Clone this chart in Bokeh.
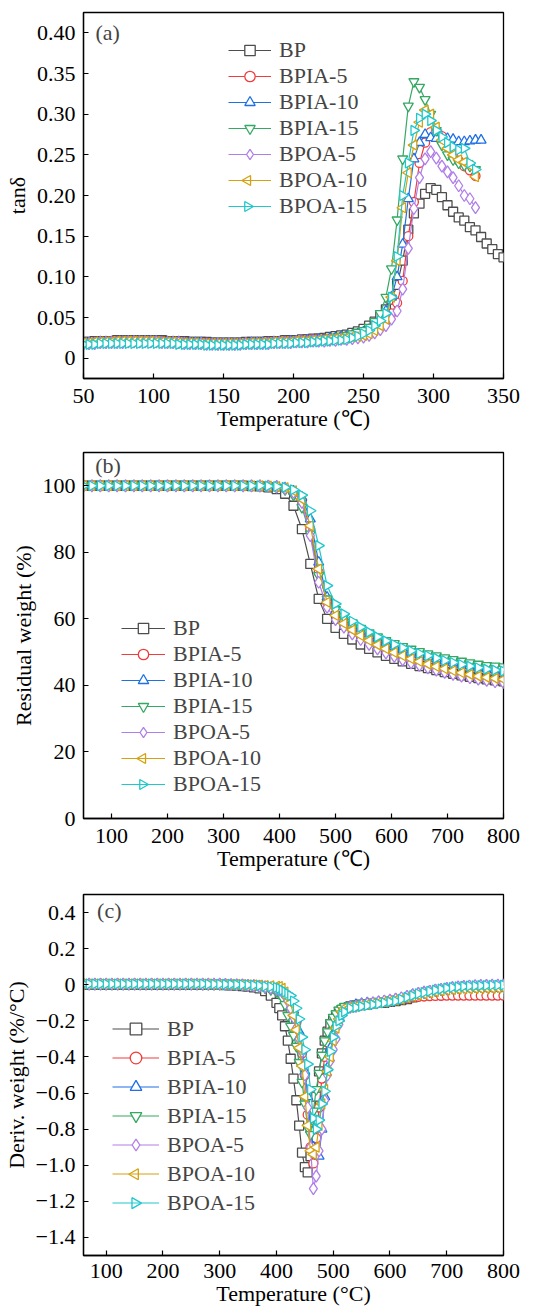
import math
from bokeh.plotting import figure
from bokeh.layouts import column
from bokeh.models import Legend, LegendItem, FixedTicker, Label, Range1d
from bokeh.embed import file_html
from bokeh.resources import INLINE

FONT = "Liberation Serif"

names = ["BP", "BPIA-5", "BPIA-10", "BPIA-15", "BPOA-5", "BPOA-10", "BPOA-15"]
colors = ["#4d4d4d", "#f03c3c", "#1f6fe5", "#35a863", "#b07ee8", "#d4a20f", "#1ec8cc"]
markers = ["square", "circle", "triangle", "inverted_triangle", "diamond", "triangle", "triangle"]
angles = [0, 0, 0, 0, 0, math.pi / 2, -math.pi / 2]
msizes = [9, 9, 10, 10, 12, 10, 10]

# ---------------- (a) tan delta ----------------
temp_a = [50, 54, 58, 62, 66, 70, 74, 78, 82, 86,
          90, 94, 98, 102, 106, 110, 114, 118, 122, 126,
          130, 134, 138, 142, 146, 150, 154, 158, 162, 166,
          170, 174, 178, 182, 186, 190, 194, 198, 202, 206,
          210, 214, 218, 222, 226, 230, 234, 238, 242, 246,
          250, 254, 258, 262, 266, 270, 274, 278, 282, 286,
          290, 294, 298, 302, 306, 310, 314, 318, 322, 326,
          330, 334, 338, 342, 346, 350]

tan_BP = [0.020, 0.020, 0.021, 0.021, 0.021, 0.021, 0.022, 0.022, 0.022, 0.022,
          0.022, 0.022, 0.022, 0.022, 0.022, 0.021, 0.021, 0.021, 0.021, 0.020,
          0.020, 0.020, 0.020, 0.019, 0.019, 0.019, 0.019, 0.019, 0.019, 0.020,
          0.020, 0.020, 0.020, 0.021, 0.021, 0.021, 0.022, 0.022, 0.022, 0.023,
          0.023, 0.024, 0.024, 0.025, 0.026, 0.027, 0.028, 0.029, 0.031, 0.033,
          0.036, 0.040, 0.045, 0.052, 0.060, 0.072, 0.090, 0.120, 0.158, 0.178,
          0.190, 0.202, 0.209, 0.207, 0.198, 0.188, 0.180, 0.173, 0.169, 0.161,
          0.157, 0.149, 0.141, 0.134, 0.128, 0.124]
tan_BPIA5 = [0.019, 0.019, 0.020, 0.020, 0.020, 0.021, 0.021, 0.021, 0.021, 0.021,
             0.021, 0.021, 0.021, 0.021, 0.021, 0.020, 0.020, 0.020, 0.020, 0.019,
             0.019, 0.019, 0.019, 0.018, 0.018, 0.018, 0.018, 0.018, 0.018, 0.019,
             0.019, 0.019, 0.019, 0.020, 0.020, 0.020, 0.021, 0.021, 0.021, 0.022,
             0.022, 0.023, 0.023, 0.024, 0.024, 0.025, 0.026, 0.027, 0.028, 0.029,
             0.030, 0.032, 0.036, 0.040, 0.046, 0.055, 0.068, 0.095, 0.150, 0.192,
             0.240, 0.265, 0.278, 0.280, 0.273, 0.262, 0.252, 0.243, 0.236, 0.231,
             0.224]
tan_BPIA10 = [0.019, 0.019, 0.019, 0.020, 0.020, 0.020, 0.020, 0.021, 0.021, 0.021,
              0.021, 0.021, 0.021, 0.021, 0.020, 0.020, 0.020, 0.020, 0.019, 0.019,
              0.019, 0.019, 0.018, 0.018, 0.018, 0.018, 0.018, 0.018, 0.018, 0.018,
              0.019, 0.019, 0.019, 0.019, 0.020, 0.020, 0.020, 0.021, 0.021, 0.021,
              0.022, 0.022, 0.023, 0.023, 0.024, 0.025, 0.026, 0.027, 0.028, 0.030,
              0.032, 0.035, 0.040, 0.047, 0.058, 0.075, 0.100, 0.140, 0.196, 0.245,
              0.265, 0.275, 0.271, 0.270, 0.270, 0.270, 0.269, 0.266, 0.266, 0.267,
              0.268, 0.268]
tan_BPIA15 = [0.018, 0.018, 0.019, 0.019, 0.019, 0.020, 0.020, 0.020, 0.020, 0.020,
              0.020, 0.020, 0.020, 0.020, 0.020, 0.020, 0.019, 0.019, 0.019, 0.019,
              0.018, 0.018, 0.018, 0.018, 0.017, 0.017, 0.017, 0.017, 0.018, 0.018,
              0.018, 0.018, 0.019, 0.019, 0.019, 0.020, 0.020, 0.020, 0.021, 0.021,
              0.022, 0.022, 0.023, 0.024, 0.025, 0.026, 0.027, 0.028, 0.030, 0.032,
              0.034, 0.038, 0.045, 0.055, 0.075, 0.110, 0.170, 0.245, 0.310, 0.340,
              0.333, 0.318, 0.300, 0.280, 0.262, 0.250, 0.244, 0.240, 0.237, 0.236,
              0.232]
tan_BPOA5 = [0.018, 0.018, 0.018, 0.019, 0.019, 0.019, 0.019, 0.019, 0.020, 0.020,
             0.020, 0.020, 0.020, 0.020, 0.019, 0.019, 0.019, 0.019, 0.018, 0.018,
             0.018, 0.018, 0.017, 0.017, 0.017, 0.017, 0.017, 0.017, 0.017, 0.018,
             0.018, 0.018, 0.018, 0.018, 0.019, 0.019, 0.019, 0.019, 0.020, 0.020,
             0.020, 0.021, 0.021, 0.021, 0.022, 0.022, 0.023, 0.023, 0.024, 0.025,
             0.026, 0.028, 0.031, 0.035, 0.040, 0.048, 0.058, 0.085, 0.135, 0.184,
             0.222, 0.245, 0.254, 0.246, 0.236, 0.229, 0.222, 0.212, 0.200, 0.196,
             0.185]
tan_BPOA10 = [0.019, 0.019, 0.020, 0.020, 0.020, 0.020, 0.021, 0.021, 0.021, 0.021,
              0.021, 0.021, 0.021, 0.020, 0.020, 0.020, 0.020, 0.019, 0.019, 0.019,
              0.019, 0.018, 0.018, 0.018, 0.018, 0.018, 0.018, 0.018, 0.018, 0.018,
              0.019, 0.019, 0.019, 0.019, 0.020, 0.020, 0.020, 0.020, 0.021, 0.021,
              0.021, 0.022, 0.022, 0.023, 0.023, 0.024, 0.024, 0.025, 0.026, 0.027,
              0.028, 0.030, 0.034, 0.040, 0.048, 0.075, 0.120, 0.185, 0.228, 0.262,
              0.290, 0.305, 0.300, 0.284, 0.268, 0.258, 0.250, 0.244, 0.241, 0.237,
              0.223]
tan_BPOA15 = [0.017, 0.017, 0.017, 0.018, 0.018, 0.018, 0.018, 0.018, 0.018, 0.018,
              0.018, 0.018, 0.018, 0.018, 0.018, 0.018, 0.018, 0.017, 0.017, 0.017,
              0.017, 0.017, 0.016, 0.016, 0.016, 0.016, 0.016, 0.016, 0.016, 0.017,
              0.017, 0.017, 0.017, 0.017, 0.018, 0.018, 0.018, 0.018, 0.019, 0.019,
              0.019, 0.020, 0.020, 0.021, 0.021, 0.022, 0.022, 0.023, 0.025, 0.027,
              0.030, 0.034, 0.040, 0.046, 0.055, 0.075, 0.125, 0.200, 0.240, 0.280,
              0.295, 0.300, 0.292, 0.280, 0.272, 0.265, 0.260, 0.256, 0.258, 0.240,
              0.232]

# ---------------- (b) residual weight ----------------
temp_b = [50, 65, 80, 95, 110, 125, 140, 155, 170, 185,
          200, 215, 230, 245, 260, 275, 290, 305, 320, 335,
          350, 365, 380, 395, 410, 425, 440, 455, 470, 485,
          500, 515, 530, 545, 560, 575, 590, 605, 620, 635,
          650, 665, 680, 695, 710, 725, 740, 755, 770, 785, 800]

tg_BP = [100.0, 100.0, 100.0, 100.0, 100.0, 100.0, 100.0, 100.0, 100.0, 100.0,
         100.0, 100.0, 100.0, 100.0, 100.0, 100.0, 100.0, 100.0, 100.0, 100.0,
         99.9, 99.8, 99.5, 99.0, 97.6, 94.0, 87.0, 76.5, 66.0, 60.0,
         57.3, 55.5, 53.8, 52.3, 51.0, 49.9, 48.9, 48.0, 47.2, 46.5,
         45.8, 45.2, 44.6, 44.0, 43.5, 43.0, 42.6, 42.2, 41.8, 41.5, 41.2]
tg_BPIA5 = [100.0, 100.0, 100.0, 100.0, 100.0, 100.0, 100.0, 100.0, 100.0, 100.0,
            100.0, 100.0, 100.0, 100.0, 100.0, 100.0, 100.0, 100.0, 100.0, 100.0,
            100.0, 100.0, 99.9, 99.7, 99.2, 98.0, 95.5, 87.0, 74.0, 65.0,
            61.5, 59.3, 57.5, 56.0, 54.6, 53.4, 52.3, 51.3, 50.4, 49.6,
            48.9, 48.2, 47.6, 47.0, 46.5, 46.0, 45.5, 45.1, 44.7, 44.3, 44.0]
tg_BPIA10 = [100.0, 100.0, 100.0, 100.0, 100.0, 100.0, 100.0, 100.0, 100.0, 100.0,
             100.0, 100.0, 100.0, 100.0, 100.0, 100.0, 100.0, 100.0, 100.0, 100.0,
             100.0, 100.0, 99.9, 99.8, 99.4, 98.4, 96.5, 90.0, 77.0, 66.5,
             62.2, 59.8, 58.0, 56.4, 55.0, 53.8, 52.7, 51.7, 50.8, 50.0,
             49.3, 48.6, 48.0, 47.4, 46.9, 46.4, 45.9, 45.5, 45.1, 44.8, 44.5]
tg_BPIA15 = [100.0, 100.0, 100.0, 100.0, 100.0, 100.0, 100.0, 100.0, 100.0, 100.0,
             100.0, 100.0, 100.0, 100.0, 100.0, 100.0, 100.0, 100.0, 100.0, 100.0,
             100.0, 99.9, 99.8, 99.5, 98.8, 97.2, 93.5, 85.5, 73.0, 66.0,
             62.8, 60.6, 58.8, 57.2, 55.8, 54.6, 53.5, 52.6, 51.7, 50.9,
             50.2, 49.5, 48.9, 48.3, 47.8, 47.3, 46.8, 46.4, 46.0, 45.8, 45.6]
tg_BPOA5 = [100.0, 100.0, 100.0, 100.0, 100.0, 100.0, 100.0, 100.0, 100.0, 100.0,
            100.0, 100.0, 100.0, 100.0, 100.0, 100.0, 100.0, 100.0, 100.0, 100.0,
            100.0, 100.0, 99.9, 99.7, 99.2, 98.0, 95.0, 85.0, 71.0, 63.5,
            59.8, 57.5, 55.5, 53.8, 52.3, 51.0, 49.8, 48.7, 47.7, 46.8,
            46.0, 45.3, 44.6, 43.9, 43.3, 42.8, 42.3, 41.9, 41.5, 41.1, 40.8]
tg_BPOA10 = [100.0, 100.0, 100.0, 100.0, 100.0, 100.0, 100.0, 100.0, 100.0, 100.0,
             100.0, 100.0, 100.0, 100.0, 100.0, 100.0, 100.0, 100.0, 100.0, 100.0,
             100.0, 100.0, 99.9, 99.8, 99.4, 98.5, 96.0, 88.0, 75.0, 65.0,
             61.0, 58.6, 56.7, 55.0, 53.5, 52.2, 51.0, 49.9, 48.9, 48.0,
             47.2, 46.4, 45.7, 45.0, 44.4, 43.8, 43.3, 42.8, 42.4, 42.1, 41.8]
tg_BPOA15 = [100.0, 100.0, 100.0, 100.0, 100.0, 100.0, 100.0, 100.0, 100.0, 100.0,
             100.0, 100.0, 100.0, 100.0, 100.0, 100.0, 100.0, 100.0, 100.0, 100.0,
             100.0, 100.0, 99.9, 99.8, 99.5, 98.8, 97.2, 92.5, 82.0, 70.0,
             64.5, 61.5, 59.3, 57.5, 56.0, 54.6, 53.4, 52.3, 51.3, 50.4,
             49.6, 48.9, 48.2, 47.5, 46.9, 46.3, 45.8, 45.3, 44.9, 44.6, 44.3]

# ---------------- (c) derivative weight ----------------
temp_c = [60, 70, 80, 90, 100, 110, 120, 130, 140, 150,
          160, 170, 180, 190, 200, 210, 220, 230, 240, 250,
          260, 270, 280, 290, 300,
          310, 320, 330, 340, 350, 360, 370, 380, 390, 400,
          405, 410, 415, 420, 425, 430, 435, 440, 445, 450,
          455, 460, 465, 470, 475, 480, 485, 490, 495, 500,
          505, 510, 515, 520,
          530, 540, 550, 560, 570, 580, 590, 600, 610, 620,
          630, 640, 650, 660, 670, 680, 690, 700, 710, 720,
          730, 740, 750, 760, 770, 780, 790, 800]

dtg_BP = [0.000, 0.000, 0.000, 0.000, 0.000, 0.000, 0.000, 0.000, 0.000, 0.000,
          0.000, 0.000, 0.000, 0.000, 0.000, 0.000, 0.000, 0.000, 0.000, 0.000,
          0.000, 0.000, -0.001, -0.001, -0.001,
          -0.002, -0.003, -0.005, -0.007, -0.010, -0.014, -0.020, -0.035, -0.060, -0.100,
          -0.13, -0.17, -0.23, -0.31, -0.41, -0.52, -0.64, -0.78, -0.93, -1.01,
          -1.04, -0.95, -0.80, -0.62, -0.48, -0.38, -0.31, -0.26, -0.22, -0.19,
          -0.17, -0.15, -0.14, -0.13,
          -0.12, -0.115, -0.11, -0.11, -0.105, -0.10, -0.10, -0.095, -0.09, -0.085,
          -0.08, -0.07, -0.06, -0.055, -0.05, -0.045, -0.04, -0.035, -0.032, -0.03,
          -0.028, -0.027, -0.026, -0.025, -0.025, -0.024, -0.024, -0.024]
dtg_BPIA5 = [0.003, 0.003, 0.003, 0.003, 0.003, 0.003, 0.003, 0.003, 0.003, 0.003,
             0.003, 0.003, 0.003, 0.003, 0.003, 0.003, 0.003, 0.003, 0.003, 0.003,
             0.003, 0.002, 0.002, 0.002, 0.002,
             0.001, 0.000, -0.001, -0.002, -0.004, -0.006, -0.009, -0.013, -0.020, -0.030,
             -0.04, -0.05, -0.07, -0.09, -0.12, -0.16, -0.21, -0.28, -0.38, -0.50,
             -0.72, -0.90, -0.99, -0.85, -0.68, -0.52, -0.40, -0.32, -0.26, -0.21,
             -0.18, -0.16, -0.14, -0.13,
             -0.12, -0.115, -0.11, -0.105, -0.10, -0.10, -0.095, -0.09, -0.085, -0.08,
             -0.075, -0.07, -0.067, -0.065, -0.063, -0.062, -0.061, -0.06, -0.06, -0.06,
             -0.06, -0.06, -0.06, -0.06, -0.06, -0.06, -0.06, -0.06]
dtg_BPIA10 = [0.003, 0.003, 0.003, 0.003, 0.003, 0.003, 0.003, 0.003, 0.003, 0.003,
              0.003, 0.003, 0.003, 0.003, 0.003, 0.003, 0.003, 0.003, 0.003, 0.003,
              0.003, 0.002, 0.002, 0.002, 0.002,
              0.001, 0.000, -0.001, -0.002, -0.003, -0.005, -0.008, -0.012, -0.017, -0.024,
              -0.03, -0.04, -0.06, -0.08, -0.10, -0.14, -0.19, -0.26, -0.36, -0.48,
              -0.62, -0.80, -0.90, -0.94, -0.95, -0.80, -0.62, -0.46, -0.35, -0.28,
              -0.22, -0.18, -0.15, -0.13,
              -0.12, -0.11, -0.105, -0.10, -0.10, -0.095, -0.09, -0.085, -0.08, -0.075,
              -0.065, -0.055, -0.047, -0.04, -0.035, -0.03, -0.025, -0.02, -0.016, -0.013,
              -0.01, -0.008, -0.007, -0.006, -0.005, -0.005, -0.004, -0.004]
dtg_BPIA15 = [0.003, 0.003, 0.003, 0.003, 0.003, 0.003, 0.003, 0.003, 0.003, 0.003,
              0.003, 0.003, 0.003, 0.003, 0.003, 0.003, 0.003, 0.003, 0.003, 0.003,
              0.003, 0.002, 0.002, 0.002, 0.002,
              0.001, 0.000, -0.001, -0.003, -0.005, -0.008, -0.012, -0.018, -0.027, -0.038,
              -0.05, -0.07, -0.11, -0.17, -0.23, -0.28, -0.34, -0.43, -0.54, -0.66,
              -0.79, -0.83, -0.70, -0.58, -0.49, -0.39, -0.31, -0.26, -0.21, -0.18,
              -0.16, -0.14, -0.13, -0.12,
              -0.115, -0.11, -0.105, -0.10, -0.10, -0.095, -0.09, -0.085, -0.08, -0.075,
              -0.068, -0.06, -0.052, -0.045, -0.04, -0.034, -0.028, -0.024, -0.02, -0.017,
              -0.015, -0.013, -0.012, -0.011, -0.01, -0.01, -0.01, -0.01]
dtg_BPOA5 = [0.004, 0.004, 0.004, 0.004, 0.004, 0.004, 0.004, 0.004, 0.004, 0.004,
             0.004, 0.004, 0.004, 0.004, 0.004, 0.004, 0.004, 0.004, 0.004, 0.004,
             0.004, 0.003, 0.003, 0.003, 0.003,
             0.002, 0.001, 0.000, -0.001, -0.003, -0.005, -0.008, -0.012, -0.017, -0.024,
             -0.03, -0.04, -0.06, -0.09, -0.13, -0.18, -0.24, -0.30, -0.37, -0.50,
             -0.68, -0.90, -1.13, -1.06, -0.92, -0.80, -0.64, -0.50, -0.42, -0.36,
             -0.30, -0.22, -0.17, -0.14,
             -0.125, -0.12, -0.11, -0.105, -0.10, -0.095, -0.09, -0.085, -0.08, -0.072,
             -0.064, -0.056, -0.048, -0.042, -0.036, -0.03, -0.025, -0.02, -0.016, -0.012,
             -0.009, -0.007, -0.005, -0.004, -0.003, -0.002, -0.002, -0.001]
dtg_BPOA10 = [0.004, 0.004, 0.004, 0.004, 0.004, 0.004, 0.004, 0.004, 0.004, 0.004,
              0.004, 0.004, 0.004, 0.004, 0.004, 0.004, 0.004, 0.004, 0.004, 0.004,
              0.004, 0.004, 0.004, 0.003, 0.003,
              0.003, 0.002, 0.002, 0.001, 0.000, -0.001, -0.002, -0.004, -0.006, -0.008,
              -0.01, -0.02, -0.04, -0.07, -0.10, -0.17, -0.25, -0.35, -0.45, -0.62,
              -0.78, -0.92, -0.94, -0.90, -0.78, -0.66, -0.58, -0.48, -0.40, -0.31,
              -0.24, -0.19, -0.15, -0.13,
              -0.125, -0.12, -0.115, -0.11, -0.105, -0.10, -0.095, -0.09, -0.085, -0.08,
              -0.072, -0.064, -0.056, -0.05, -0.044, -0.038, -0.033, -0.029, -0.026, -0.024,
              -0.022, -0.021, -0.02, -0.02, -0.019, -0.019, -0.018, -0.018]
dtg_BPOA15 = [0.004, 0.004, 0.004, 0.004, 0.004, 0.004, 0.004, 0.004, 0.004, 0.004,
              0.004, 0.004, 0.004, 0.004, 0.004, 0.004, 0.004, 0.004, 0.004, 0.004,
              0.004, 0.004, 0.003, 0.003, 0.003,
              0.002, 0.002, 0.001, 0.000, -0.001, -0.003, -0.005, -0.008, -0.011, -0.015,
              -0.02, -0.03, -0.04, -0.05, -0.06, -0.09, -0.13, -0.19, -0.29, -0.36,
              -0.44, -0.58, -0.74, -0.80, -0.75, -0.66, -0.59, -0.47, -0.37, -0.29,
              -0.23, -0.20, -0.17, -0.15,
              -0.13, -0.125, -0.12, -0.115, -0.11, -0.105, -0.10, -0.095, -0.09, -0.08,
              -0.07, -0.06, -0.05, -0.043, -0.036, -0.03, -0.024, -0.019, -0.015, -0.012,
              -0.009, -0.007, -0.006, -0.005, -0.004, -0.003, -0.003, -0.002]

ticks_a_x = [50, 100, 150, 200, 250, 300, 350]
ticks_a_y = [0, 0.05, 0.10, 0.15, 0.20, 0.25, 0.30, 0.35, 0.40]
labels_a_y = ["0", "0.05", "0.10", "0.15", "0.20", "0.25", "0.30", "0.35", "0.40"]
ticks_b_x = [100, 200, 300, 400, 500, 600, 700, 800]
ticks_b_y = [0, 20, 40, 60, 80, 100]
ticks_c_x = [100, 200, 300, 400, 500, 600, 700, 800]
ticks_c_y = [-1.4, -1.2, -1.0, -0.8, -0.6, -0.4, -0.2, 0, 0.2, 0.4]
labels_c_y = ["\u22121.4", "\u22121.2", "\u22121.0", "\u22120.8", "\u22120.6",
              "\u22120.4", "\u22120.2", "0", "0.2", "0.4"]

FIG_W = 540


def make_fig(xr, yr, fh, bl, fw, bt, bb):
    p = figure(width=FIG_W, height=bt + fh + bb, x_range=Range1d(*xr), y_range=Range1d(*yr),
               min_border_left=bl, min_border_right=FIG_W - bl - fw, min_border_top=bt,
               min_border_bottom=bb, output_backend="svg", toolbar_location=None)
    p.xgrid.visible = False
    p.ygrid.visible = False
    p.outline_line_color = "black"
    p.outline_line_width = 1.3
    p.background_fill_color = "white"
    p.border_fill_color = "white"
    for ax in (p.xaxis[0], p.yaxis[0]):
        ax.axis_line_width = 1.3
        ax.major_tick_in = 5
        ax.major_tick_out = 0
        ax.major_tick_line_width = 1.2
        ax.minor_tick_line_color = None
        ax.major_label_text_font = FONT
        ax.major_label_text_font_size = "22px"
        ax.major_label_text_color = "black"
        ax.axis_label_text_font = FONT
        ax.axis_label_text_font_size = "22px"
        ax.axis_label_text_font_style = "normal"
        ax.axis_label_text_color = "black"
    p.xaxis.major_label_standoff = 10
    p.xaxis.axis_label_standoff = 0
    p.yaxis.major_label_standoff = 8
    p.yaxis.axis_label_standoff = 4
    return p


def add_series(p, x, ys, xr, yr, fw, fh, loc, gw, pitch, ksize):
    items = []
    n = len(ys)
    for i, y in enumerate(ys):
        xx = x[:len(y)]
        lr = p.line(xx, y, line_color=colors[i], line_width=1.2)
        sr = p.scatter(xx, y, marker=markers[i], size=msizes[i], angle=angles[i],
                       line_color=colors[i], fill_color="white", line_width=1.3)
        if angles[i] == 0:
            items.append(LegendItem(label=names[i], renderers=[lr, sr]))
        else:
            # legend keys cannot show rotated markers: line in legend, key marker drawn on top
            items.append(LegendItem(label=names[i], renderers=[lr]))
            sx = loc[0] + gw / 2.0
            sy = loc[1] + n * pitch - (i + 0.5) * pitch
            kx = xr[0] + sx / fw * (xr[1] - xr[0])
            ky = yr[0] + sy / fh * (yr[1] - yr[0])
            p.scatter([kx], [ky], marker=markers[i], size=ksize, angle=angles[i],
                      line_color=colors[i], fill_color="white", line_width=1.3,
                      level="overlay")
    leg = Legend(items=items, location=loc, padding=0, margin=0, spacing=0,
                 glyph_width=gw, glyph_height=pitch, label_height=pitch, label_standoff=8,
                 label_text_font=FONT, label_text_font_size="22px",
                 border_line_color=None, background_fill_alpha=0)
    p.add_layout(leg)


# (a)
XA, YA = (50, 350), (-0.025, 0.425)
pa = make_fig(XA, YA, 366, 78, 426, 12, 58)
add_series(pa, temp_a, [tan_BP, tan_BPIA5, tan_BPIA10, tan_BPIA15, tan_BPOA5, tan_BPOA10, tan_BPOA15],
           XA, YA, 426, 366, (145, 159), 43, 26, 10)
pa.xaxis.ticker = FixedTicker(ticks=ticks_a_x)
pa.yaxis.ticker = FixedTicker(ticks=ticks_a_y)
pa.yaxis.major_label_overrides = {t: l for t, l in zip(ticks_a_y, labels_a_y)}
pa.xaxis.axis_label = "Temperature (\u2103)"
pa.yaxis.axis_label = "tan\u03b4"
pa.add_layout(Label(x=58.5, y=0.40, text="(a)", text_font=FONT, text_font_size="22px",
                    text_baseline="middle"))

# (b)
XB, YB = (50, 800), (0, 110)
pb = make_fig(XB, YB, 366, 78, 426, 16, 58)
add_series(pb, temp_b, [tg_BP, tg_BPIA5, tg_BPIA10, tg_BPIA15, tg_BPOA5, tg_BPOA10, tg_BPOA15],
           XB, YB, 426, 366, (38, 21), 44, 26, 10)
pb.xaxis.ticker = FixedTicker(ticks=ticks_b_x)
pb.yaxis.ticker = FixedTicker(ticks=ticks_b_y)
pb.xaxis.axis_label = "Temperature (\u2103)"
pb.yaxis.axis_label = "Residual weight (%)"
pb.add_layout(Label(x=71, y=106.2, text="(b)", text_font=FONT, text_font_size="22px",
                    text_baseline="middle"))

# (c)
XC, YC = (60, 800), (-1.5, 0.5)
pc = make_fig(XC, YC, 362, 76, 427, 18, 52)
add_series(pc, temp_c, [dtg_BP, dtg_BPIA5, dtg_BPIA10, dtg_BPIA15, dtg_BPOA5, dtg_BPOA10, dtg_BPOA15],
           XC, YC, 427, 362, (29, 38), 47, 29, 11)
pc.xaxis.ticker = FixedTicker(ticks=ticks_c_x)
pc.yaxis.ticker = FixedTicker(ticks=ticks_c_y)
pc.yaxis.major_label_overrides = {t: l for t, l in zip(ticks_c_y, labels_c_y)}
pc.xaxis.axis_label = "Temperature (\u00b0C)"
pc.yaxis.axis_label = "Deriv. weight (%/\u00b0C)"
pc.xaxis.major_label_standoff = 8
pc.add_layout(Label(x=84, y=0.41, text="(c)", text_font=FONT, text_font_size="22px",
                    text_baseline="middle"))

layout = column(pa, pb, pc, spacing=0)
open("out.html", "w").write(file_html(layout, INLINE))
